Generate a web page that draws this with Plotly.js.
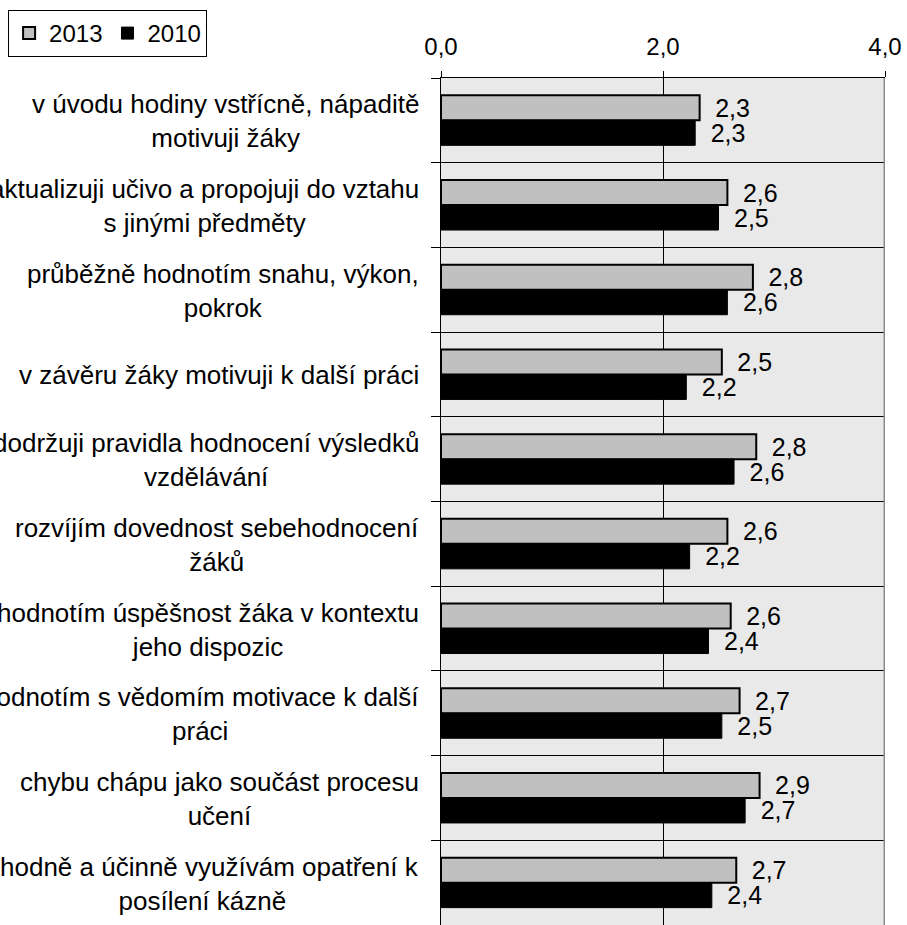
<!DOCTYPE html>
<html>
<head>
<meta charset="utf-8">
<script src="https://cdn.plot.ly/plotly-3.0.1.min.js"></script>
<style>
  html, body { margin: 0; padding: 0; background: #ffffff; }
  #chart { width: 907px; height: 925px; }
</style>
</head>
<body>
<div id="chart"></div>
<script>
// Categories (top to bottom)
const categories = [
  "v úvodu hodiny vstřícně, nápaditě<br>motivuji žáky",
  "aktualizuji učivo a propojuji do vztahu<br>s jinými předměty",
  "průběžně hodnotím snahu, výkon,<br>pokrok",
  "v závěru žáky motivuji k další práci",
  "dodržuji pravidla hodnocení výsledků<br>vzdělávání",
  "rozvíjím dovednost sebehodnocení<br>žáků",
  "hodnotím úspěšnost žáka v kontextu<br>jeho dispozic",
  "hodnotím s vědomím motivace k další<br>práci",
  "chybu chápu jako součást procesu<br>učení",
  "vhodně a účinně využívám opatření k<br>posílení kázně"
];

// Series values
const values2013 = [2.33, 2.58, 2.81, 2.53, 2.84, 2.58, 2.61, 2.69, 2.87, 2.66];
const values2010 = [2.29, 2.50, 2.58, 2.21, 2.64, 2.24, 2.41, 2.53, 2.74, 2.44];

// Series names
const seriesNames = ["2013", "2010"];

// X axis ticks
const xTicks = [0, 2, 4];

const FONT = '"Liberation Sans", Arial, sans-serif';

const trace2013 = {
  type: 'bar',
  orientation: 'h',
  name: seriesNames[0],
  y: categories,
  x: values2013,
  marker: { color: '#c0c0c0', line: { color: '#000000', width: 2 } },
  texttemplate: '\u2002%{x:.1f}',
  textposition: 'outside',
  constraintext: 'none',
  cliponaxis: false,
  textfont: { family: FONT, size: 25, color: '#000000' },
  hoverinfo: 'skip'
};

const trace2010 = {
  type: 'bar',
  orientation: 'h',
  name: seriesNames[1],
  y: categories,
  x: values2010,
  marker: { color: '#000000', line: { color: '#000000', width: 1 } },
  texttemplate: '\u2002%{x:.1f}',
  textposition: 'outside',
  constraintext: 'none',
  cliponaxis: false,
  textfont: { family: FONT, size: 25, color: '#000000' },
  hoverinfo: 'skip'
};

const annotations = categories.map(c => ({
  xref: 'paper', x: 0, xshift: -20, xanchor: 'right',
  yref: 'y', y: c, yanchor: 'middle', yshift: -1,
  text: c, showarrow: false, align: 'center',
  font: { family: FONT, size: 26, color: '#000000' }
}));

const layout = {
  width: 907,
  height: 925,
  margin: { l: 441, r: 22, t: 78, b: 0, pad: 0 },
  paper_bgcolor: '#ffffff',
  plot_bgcolor: '#e9e9e9',
  separators: ', ',
  font: { family: FONT, size: 24, color: '#000000' },
  barmode: 'group',
  bargap: 0.41,
  bargroupgap: 0,
  showlegend: true,
  legend: {
    orientation: 'h',
    x: -0.975, y: 1.0803, xanchor: 'left', yanchor: 'top',
    bgcolor: '#ffffff', bordercolor: '#000000', borderwidth: 1,
    font: { family: FONT, size: 24, color: '#000000' },
    traceorder: 'normal',
    itemwidth: 30
  },
  xaxis: {
    side: 'top',
    range: [0, 4],
    tickvals: xTicks,
    tickformat: '.1f',
    ticks: 'outside', ticklen: 6, tickcolor: '#000000', tickwidth: 1,
    showline: true, linecolor: '#000000', linewidth: 1,
    showgrid: true, gridcolor: '#000000', gridwidth: 1,
    zeroline: false,
    tickfont: { family: FONT, size: 24, color: '#000000' },
    ticklabelstandoff: 6,
    fixedrange: true
  },
  yaxis: {
    type: 'category',
    categoryorder: 'array',
    categoryarray: categories,
    autorange: 'reversed',
    tickson: 'boundaries',
    ticks: 'outside', ticklen: 9, tickcolor: '#000000', tickwidth: 1,
    showticklabels: false,
    showline: true, linecolor: '#000000', linewidth: 1,
    showgrid: true, gridcolor: '#000000', gridwidth: 1,
    zeroline: false,
    fixedrange: true
  },
  shapes: [{
    type: 'line', xref: 'x', yref: 'paper',
    x0: 4, x1: 4, y0: 0, y1: 1,
    line: { color: '#8c8c8c', width: 3 }
  }],
  annotations: annotations
};

Plotly.newPlot('chart', [trace2013, trace2010], layout, { displayModeBar: false, staticPlot: true });
</script>
</body>
</html>
